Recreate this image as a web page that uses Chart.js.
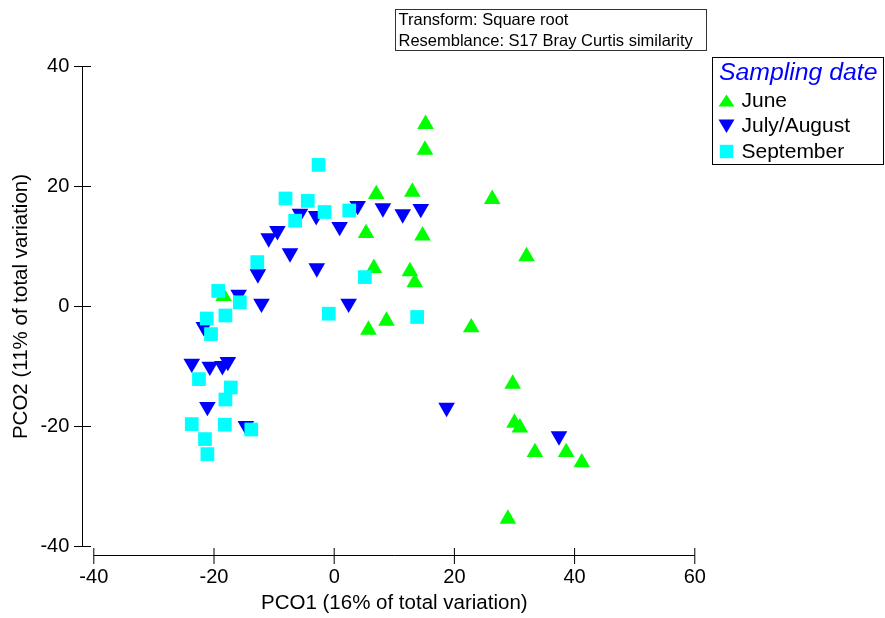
<!DOCTYPE html>
<html>
<head>
<meta charset="utf-8">
<script src="https://cdn.jsdelivr.net/npm/chart.js@4.4.1/dist/chart.umd.min.js"></script>
<style>
  html, body { margin: 0; padding: 0; background: #fff; }
  #wrap { width: 885px; height: 618px; }
</style>
</head>
<body>
<div id="wrap"><canvas id="c" width="885" height="618"></canvas></div>
<script>
// ---- data (PCO1, PCO2) ----
const seriesNames = ['June', 'July/August', 'September'];

const juneX = [15.2, 15.1, 7.0, 13.0, 26.3, 5.3, 14.7, 32.0, 6.6, 12.6, 13.4, -18.4, 8.7, 5.7, 22.8, 29.7, 30.0, 30.9, 33.4, 38.6, 41.2, 28.9];
const juneY = [30.4, 26.1, 18.7, 19.1, 17.9, 12.2, 11.8, 8.35, 6.4, 5.85, 4.0, 1.7, -2.4, -3.9, -3.5, -12.9, -19.4, -20.2, -24.3, -24.3, -26.0, -35.4];

const julAugX = [3.9, 8.1, 11.4, 14.4, -5.7, -3.0, 0.9, -9.45, -10.9, -7.35, -2.9, -12.7, -15.9, -12.1, 2.4, -21.7, -23.7, -20.7, -18.6, -17.7, -21.1, -14.7, 18.7, 37.4];
const julAugY = [16.8, 16.4, 15.4, 16.3, 15.5, 15.1, 13.3, 12.6, 11.4, 8.9, 6.4, 5.4, 2.0, 0.5, 0.5, -3.4, -9.5, -10.0, -9.9, -9.2, -16.7, -19.9, -16.85, -21.6];

const sepX = [-2.6, -8.1, -4.4, -1.6, 2.5, -6.5, -12.8, 5.1, -19.3, -15.7, -0.9, 13.8, -18.1, -21.2, -20.5, -22.5, -17.2, -18.1, -23.7, -18.2, -13.8, -21.5, -21.1];
const sepY = [23.6, 18.0, 17.6, 15.75, 16.0, 14.3, 7.4, 4.9, 2.6, 0.7, -1.2, -1.75, -1.5, -2.0, -4.6, -12.1, -13.5, -15.5, -19.6, -19.7, -20.5, -22.1, -24.6];

const xTicks = [-40, -20, 0, 20, 40, 60];
const yTicks = [-40, -20, 0, 20, 40];

const xTitle = 'PCO1 (16% of total variation)';
const yTitle = 'PCO2 (11% of total variation)';
const noteLines = ['Transform: Square root', 'Resemblance: S17 Bray Curtis similarity'];
const legendTitle = 'Sampling date';

const colors = ['#00ff00', '#0000ff', '#00ffff'];

function pts(xs, ys) { return xs.map((x, i) => ({ x: x, y: ys[i] })); }

Chart.defaults.font.family = '"Liberation Sans", Arial, sans-serif';
Chart.defaults.color = '#000';

const FONT = '"Liberation Sans", Arial, sans-serif';

const decor = {
  id: 'decor',
  beforeDatasetsDraw(chart) {
    const ctx = chart.ctx;
    const xs = chart.scales.x, ys = chart.scales.y;
    ctx.save();
    ctx.strokeStyle = '#000';
    ctx.lineWidth = 1;
    // y axis (offset to the left)
    const ax = 82.5;
    ctx.beginPath();
    ctx.moveTo(ax, ys.getPixelForValue(40));
    ctx.lineTo(ax, ys.getPixelForValue(-40));
    ctx.stroke();
    yTicks.forEach(v => {
      const p = ys.getPixelForValue(v);
      ctx.beginPath();
      ctx.moveTo(74, p); ctx.lineTo(91, p);
      ctx.stroke();
    });
    // x axis (offset below)
    const ay = 555.5;
    ctx.beginPath();
    ctx.moveTo(xs.getPixelForValue(-40), ay);
    ctx.lineTo(xs.getPixelForValue(60), ay);
    ctx.stroke();
    xTicks.forEach(v => {
      const p = xs.getPixelForValue(v);
      ctx.beginPath();
      ctx.moveTo(p, 548); ctx.lineTo(p, 564);
      ctx.stroke();
    });
    ctx.restore();
  },
  afterDraw(chart) {
    const ctx = chart.ctx;
    ctx.save();
    // annotation box
    ctx.strokeStyle = '#333';
    ctx.lineWidth = 1;
    ctx.strokeRect(395.5, 9.5, 311, 41);
    ctx.fillStyle = '#000';
    ctx.font = '16.5px ' + FONT;
    ctx.textAlign = 'left';
    ctx.textBaseline = 'alphabetic';
    ctx.fillText(noteLines[0], 398.5, 25);
    ctx.fillText(noteLines[1], 398.5, 45.5);

    // legend box
    ctx.strokeStyle = '#000';
    ctx.strokeRect(712.5, 57.5, 171, 107);
    ctx.fillStyle = '#0000ff';
    ctx.font = 'italic 24.8px ' + FONT;
    ctx.fillText(legendTitle, 719, 80);

    const rows = [100.5, 126, 151.5];
    const bases = [106.5, 132, 157.7];
    const mx = 726.5;
    // June: up triangle
    ctx.fillStyle = colors[0];
    ctx.beginPath();
    ctx.moveTo(mx, rows[0] - 6); ctx.lineTo(mx + 8, rows[0] + 6); ctx.lineTo(mx - 8, rows[0] + 6);
    ctx.closePath(); ctx.fill();
    // July/August: down triangle
    ctx.fillStyle = colors[1];
    ctx.beginPath();
    ctx.moveTo(mx - 8, rows[1] - 6.5); ctx.lineTo(mx + 8, rows[1] - 6.5); ctx.lineTo(mx, rows[1] + 7);
    ctx.closePath(); ctx.fill();
    // September: square
    ctx.fillStyle = colors[2];
    ctx.fillRect(mx - 6.7, rows[2] - 6.7, 13.4, 13.4);

    ctx.fillStyle = '#000';
    ctx.font = '21px ' + FONT;
    seriesNames.forEach((n, i) => ctx.fillText(n, 741.5, bases[i]));
    ctx.restore();
  }
};

new Chart(document.getElementById('c'), {
  type: 'scatter',
  data: {
    datasets: [
      { label: seriesNames[0], data: pts(juneX, juneY), pointStyle: 'triangle', rotation: 0,
        pointRadius: 9.6, pointBorderWidth: 0, borderWidth: 0, backgroundColor: colors[0], borderColor: colors[0], order: 1, clip: false },
      { label: seriesNames[1], data: pts(julAugX, julAugY), pointStyle: 'triangle', rotation: 180,
        pointRadius: 9.6, pointBorderWidth: 0, borderWidth: 0, backgroundColor: colors[1], borderColor: colors[1], order: 2, clip: false },
      { label: seriesNames[2], data: pts(sepX, sepY), pointStyle: 'rect',
        pointRadius: 9.7, pointBorderWidth: 0, borderWidth: 0, backgroundColor: colors[2], borderColor: colors[2], order: 0, clip: false }
    ]
  },
  options: {
    responsive: false,
    animation: false,
    devicePixelRatio: 1,
    events: [],
    layout: { padding: { top: 66.5, right: 190.2, left: 0, bottom: 0 } },
    plugins: { legend: { display: false }, tooltip: { enabled: false } },
    scales: {
      x: {
        type: 'linear', position: 'bottom', min: -40, max: 60,
        afterBuildTicks: s => { s.ticks = xTicks.map(v => ({ value: v })); },
        afterFit: s => { s.height = 71.5; },
        grid: { display: false, drawTicks: false },
        border: { display: false },
        ticks: { font: { size: 20 }, color: '#000', padding: 19, maxRotation: 0 },
        title: { display: true, text: xTitle, font: { size: 20.5 }, color: '#000', padding: { top: 0, bottom: 2.5 } }
      },
      y: {
        type: 'linear', position: 'left', min: -40, max: 40,
        afterBuildTicks: s => { s.ticks = yTicks.map(v => ({ value: v })); },
        afterFit: s => { s.width = 93.8; },
        grid: { display: false, drawTicks: false },
        border: { display: false },
        ticks: { font: { size: 20 }, color: '#000', padding: 24.5 },
        title: { display: true, text: yTitle, font: { size: 20.5 }, color: '#000', padding: { top: 9, bottom: 0 } }
      }
    }
  },
  plugins: [decor]
});
</script>
</body>
</html>
